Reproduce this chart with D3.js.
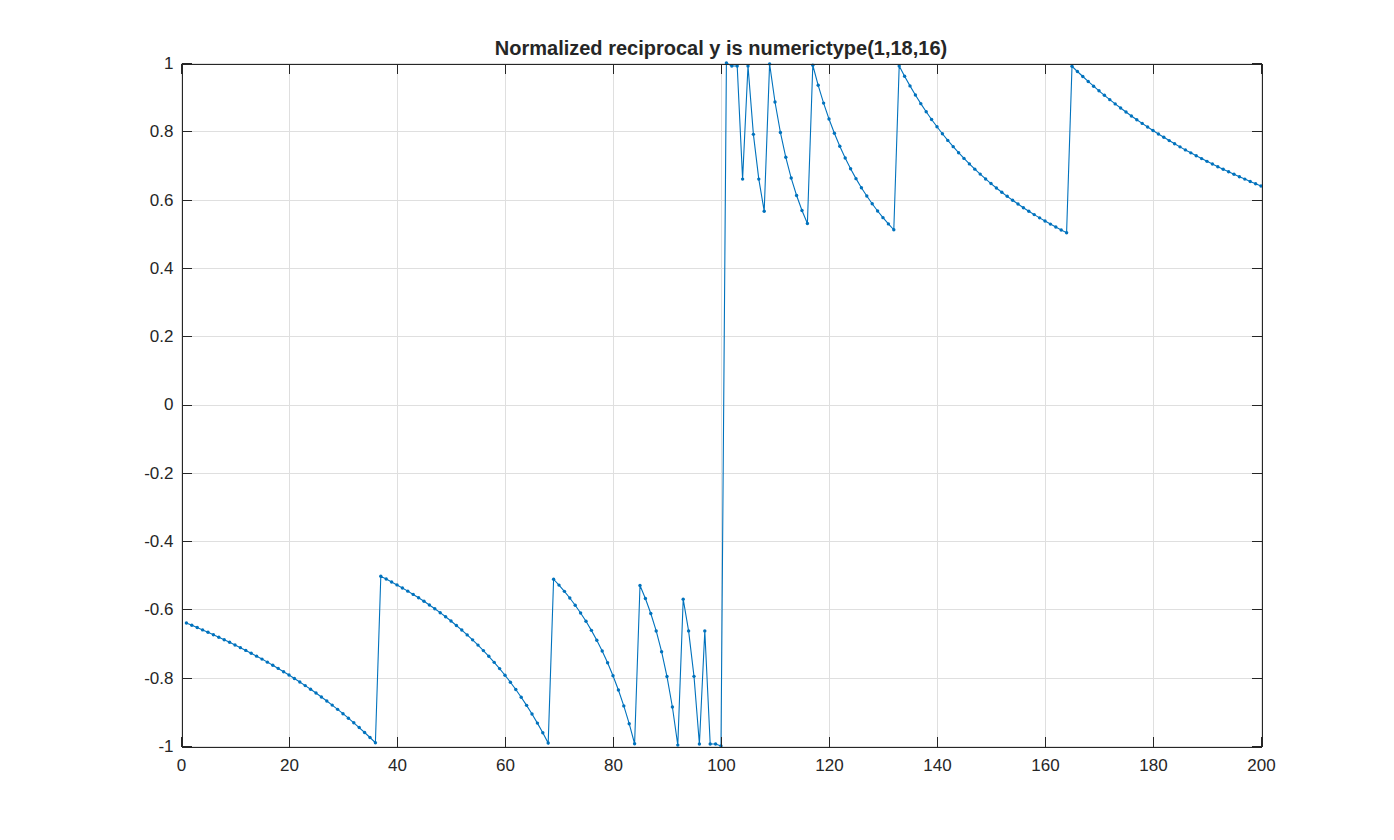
<!DOCTYPE html>
<html><head><meta charset="utf-8">
<script src="https://cdn.jsdelivr.net/npm/d3@7"></script>
<style>
body{margin:0;background:#fff}
svg{display:block}
text{font-family:"Liberation Sans",Arial,Helvetica,sans-serif}
</style>
</head><body>
<svg id="chart" width="1394" height="840"></svg>
<script>
const titleText = "Normalized reciprocal y is numerictype(1,18,16)";
const sampleIndex = [1,2,3,4,5,6,7,8,9,10,11,12,13,14,15,16,17,18,19,20,21,22,23,24,25,26,27,28,29,30,31,32,33,34,35,36,37,38,39,40,41,42,43,44,45,46,47,48,49,50,51,52,53,54,55,56,57,58,59,60,61,62,63,64,65,66,67,68,69,70,71,72,73,74,75,76,77,78,79,80,81,82,83,84,85,86,87,88,89,90,91,92,93,94,95,96,97,98,99,100,101,102,103,104,105,106,107,108,109,110,111,112,113,114,115,116,117,118,119,120,121,122,123,124,125,126,127,128,129,130,131,132,133,134,135,136,137,138,139,140,141,142,143,144,145,146,147,148,149,150,151,152,153,154,155,156,157,158,159,160,161,162,163,164,165,166,167,168,169,170,171,172,173,174,175,176,177,178,179,180,181,182,183,184,185,186,187,188,189,190,191,192,193,194,195,196,197,198,199,200];
const yValues = [
-0.6400,-0.6466,-0.6532,-0.6601,-0.6670,-0.6741,-0.6814,-0.6888,-0.6963,-0.7041,-0.7120,-0.7201,-0.7284,-0.7369,-0.7455,-0.7544,-0.7635,-0.7728,-0.7824,-0.7922,-0.8022,-0.8125,-0.8231,-0.8339,-0.8450,-0.8565,-0.8682,-0.8803,-0.8927,-0.9054,-0.9186,-0.9321,-0.9460,-0.9604,-0.9751,-0.9904,
-0.5031,-0.5112,-0.5196,-0.5283,-0.5372,-0.5465,-0.5561,-0.5660,-0.5763,-0.5870,-0.5981,-0.6096,-0.6216,-0.6340,-0.6470,-0.6605,-0.6746,-0.6892,-0.7046,-0.7206,-0.7374,-0.7550,-0.7734,-0.7928,-0.8132,-0.8346,-0.8572,-0.8810,-0.9063,-0.9330,-0.9613,-0.9914,
-0.5117,-0.5288,-0.5471,-0.5667,-0.5877,-0.6104,-0.6348,-0.6614,-0.6902,-0.7217,-0.7561,-0.7941,-0.8360,-0.8826,-0.9347,-0.9934,
-0.5299,-0.5680,-0.6119,-0.6631,-0.7238,-0.7966,-0.8858,-0.9974,
-0.570,-0.663,-0.796,-0.994,-0.663,-0.994,-0.994,-1.000,
1.000,0.991,0.991,0.660,0.991,0.791,0.660,0.566,
0.9974,0.8858,0.7966,0.7238,0.6631,0.6119,0.5680,0.5299,
0.9934,0.9347,0.8826,0.8360,0.7941,0.7561,0.7217,0.6902,0.6614,0.6348,0.6104,0.5877,0.5667,0.5471,0.5288,0.5117,
0.9914,0.9613,0.9330,0.9063,0.8810,0.8572,0.8346,0.8132,0.7928,0.7734,0.7550,0.7374,0.7206,0.7046,0.6892,0.6746,0.6605,0.6470,0.6340,0.6216,0.6096,0.5981,0.5870,0.5763,0.5660,0.5561,0.5465,0.5372,0.5283,0.5196,0.5112,0.5031,
0.9904,0.9751,0.9604,0.9460,0.9321,0.9186,0.9054,0.8927,0.8803,0.8682,0.8565,0.8450,0.8339,0.8231,0.8125,0.8022,0.7922,0.7824,0.7728,0.7635,0.7544,0.7455,0.7369,0.7284,0.7201,0.7120,0.7041,0.6963,0.6888,0.6814,0.6741,0.6670,0.6601,0.6532,0.6466,0.6400
];
const xTicks = [0,20,40,60,80,100,120,140,160,180,200];
const yTicks = [-1,-0.8,-0.6,-0.4,-0.2,0,0.2,0.4,0.6,0.8,1];
const yTickLabels = ["-1","-0.8","-0.6","-0.4","-0.2","0","0.2","0.4","0.6","0.8","1"];

(function(){
const svg = d3.select("#chart");
const L = 181, R = 1261, T = 63, B = 746;
const x = d3.scaleLinear().domain([0,200]).range([L,R]);
const y = d3.scaleLinear().domain([-1,1]).range([B,T]);
const axisColor = "#262626";

// grid
const grid = svg.append("g").attr("shape-rendering","crispEdges");
grid.selectAll("line.vx").data(xTicks).enter().append("line")
  .attr("x1",d=>Math.round(x(d))+0.5).attr("x2",d=>Math.round(x(d))+0.5)
  .attr("y1",T).attr("y2",B).attr("stroke","#dfdfdf").attr("stroke-width",1);
grid.selectAll("line.hy").data(yTicks).enter().append("line")
  .attr("y1",d=>Math.round(y(d))+0.5).attr("y2",d=>Math.round(y(d))+0.5)
  .attr("x1",L).attr("x2",R).attr("stroke","#dfdfdf").attr("stroke-width",1);

// data line + markers
const line = d3.line().x((d,i)=>x(sampleIndex[i])).y(d=>y(d));
svg.append("path").datum(yValues).attr("d",line)
  .attr("fill","none").attr("stroke","#0072BD").attr("stroke-width",1.1);
svg.append("g").selectAll("circle").data(yValues).enter().append("circle")
  .attr("cx",(d,i)=>x(sampleIndex[i])).attr("cy",d=>y(d)).attr("r",1.7)
  .attr("fill","#0072BD");

// axes
const fmtY = d => yTickLabels[yTicks.indexOf(d)];
const gBottom = svg.append("g").attr("transform",`translate(0,${B+0.5})`)
  .call(d3.axisBottom(x).tickValues(xTicks).tickSizeInner(-10).tickSizeOuter(0).tickPadding(12));
const gTop = svg.append("g").attr("transform",`translate(0,${T+0.5})`)
  .call(d3.axisTop(x).tickValues(xTicks).tickSizeInner(-10).tickSizeOuter(0).tickFormat(""));
const gLeft = svg.append("g").attr("transform",`translate(${L+0.5},0)`)
  .call(d3.axisLeft(y).tickValues(yTicks).tickSizeInner(-10).tickSizeOuter(0).tickPadding(8).tickFormat(fmtY));
const gRight = svg.append("g").attr("transform",`translate(${R+0.5},0)`)
  .call(d3.axisRight(y).tickValues(yTicks).tickSizeInner(-10).tickSizeOuter(0).tickFormat(""));
[gBottom,gTop,gLeft,gRight].forEach(g=>{
  g.selectAll("path.domain").attr("stroke",axisColor);
  g.selectAll(".tick line").attr("stroke",axisColor);
  g.selectAll(".tick text").attr("fill",axisColor).style("font-size","17px")
    .style("font-family","'Liberation Sans',Arial,Helvetica,sans-serif");
  g.attr("shape-rendering","crispEdges");
});

// title
svg.append("text").attr("x",(L+R)/2).attr("y",55).attr("text-anchor","middle")
  .style("font-size","20px").style("font-weight","bold").attr("fill",axisColor)
  .text(titleText);
})();
</script>
</body></html>
